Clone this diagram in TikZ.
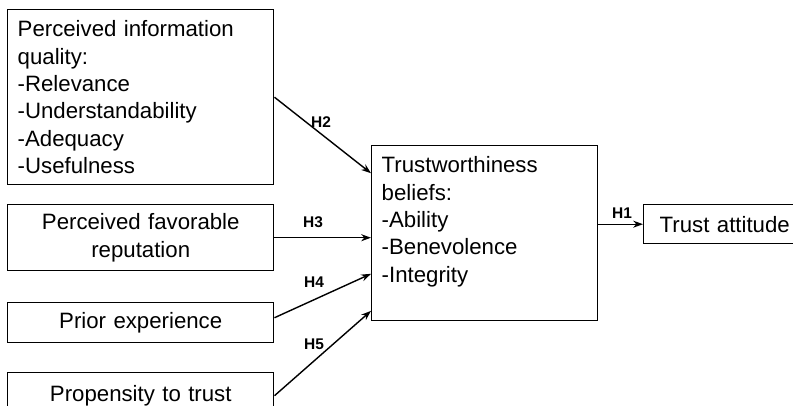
\documentclass[tikz,border=0pt]{standalone}
\usepackage{fontspec}
\setmainfont{Liberation Sans}
\usetikzlibrary{calc, arrows.meta}

\begin{document}
\begin{tikzpicture}[x=0.025cm, y=-0.025cm,
   box/.style={draw, line width=1pt, anchor=north west, inner xsep=0.25cm, inner ysep=0pt,
      font=\fontsize{15.8}{19.5}\selectfont},
   hlabel/.style={font=\fontsize{11}{13}\selectfont\bfseries, inner sep=0pt},
   link/.style={line width=1pt, -{Stealth[length=7pt, width=5pt]}}]

   \useasboundingbox (0,0) rectangle (793,406);

   % 左側の箱
   \node [box, minimum width=6.65cm, minimum height=4.375cm, text width=6.15cm, align=left] (piq) at (7,9)
      {Perceived information\\ quality:\\ -Relevance\\ -Understandability\\ -Adequacy\\ -Usefulness};
   \node [box, minimum width=6.65cm, minimum height=1.65cm, text width=6.15cm, align=center] (pfr) at (7,204)
      {Perceived favorable\\ reputation};
   \node [box, minimum width=6.65cm, minimum height=1cm, text width=6.15cm, align=center] (prior) at (7,302)
      {Prior experience};
   \node [box, minimum width=6.65cm, minimum height=1.15cm, text width=6.15cm, align=center] (prop) at (7,372)
      {Propensity to trust};

   % 中央と右の箱
   \node [box, minimum width=5.65cm, minimum height=4.375cm, text width=5.15cm, align=left] (tb) at (371,145)
      {Trustworthiness\\ beliefs:\\ -Ability\\ -Benevolence\\ -Integrity\\ ~};
   \node [box, minimum width=4.4cm, minimum height=0.975cm, inner xsep=0.4cm, text width=3.6cm, align=left] (ta) at (643,204)
      {Trust attitude};

   % 矢印
   \draw [link] (piq.east) -- ($(tb.north west)!0.16!(tb.south west)$);
   \draw [link] (pfr.east) -- (pfr.east -| tb.west);
   \draw [link] ($(prior.north east)!0.38!(prior.south east)$) -- ($(tb.north west)!0.73!(tb.south west)$);
   \draw [link] ($(prop.north east)!0.5!(prop.south east)$) -- ($(tb.north west)!0.94!(tb.south west)$);
   \draw [link] (ta.west -| tb.east) -- (ta.west);

   % 仮説のラベル
   \node [hlabel] (h2) at (321,122) {H2};
   \node [hlabel] (h3) at (313,222) {H3};
   \node [hlabel] (h4) at (314,282) {H4};
   \node [hlabel] (h5) at (314,344) {H5};
   \node [hlabel] (h1) at (622,213) {H1};

\end{tikzpicture}
\end{document}
